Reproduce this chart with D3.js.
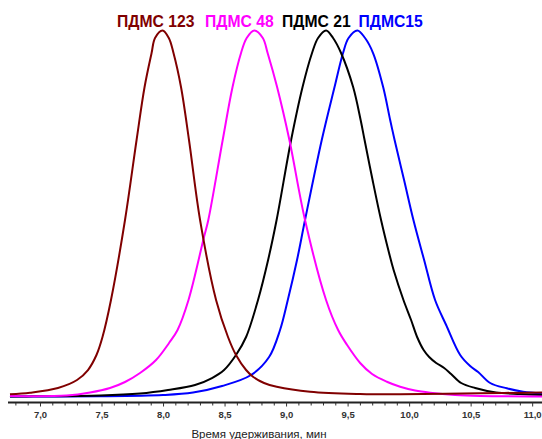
<!DOCTYPE html>
<html><head><meta charset="utf-8">
<script src="https://cdn.jsdelivr.net/npm/d3@7"></script>
<style>body{margin:0;background:#fff}svg{display:block}</style>
</head><body><svg id="c" width="542" height="439"></svg>
<script>
const seriesNames = ["ПДМС 123", "ПДМС 48", "ПДМС 21", "ПДМС15"];
const seriesColors = ["#800000", "#ff00ff", "#000000", "#0000ff"];

// [retention time, min ; relative intensity, % of peak]
const pdms123 = [[6.756,0.60],[6.919,1.04],[7.146,2.32],[7.301,4.51],[7.390,7.24],[7.459,11.34],[7.508,16.26],[7.577,26.37],[7.691,48.22],[7.785,70.08],[7.850,84.56],[7.907,93.85],[7.935,97.95],[7.996,100],[8.047,97.95],[8.085,93.85],[8.146,84.56],[8.211,70.08],[8.301,48.22],[8.431,26.37],[8.528,16.26],[8.593,11.34],[8.675,7.24],[8.734,5.33],[8.821,3.7],[8.924,2.68],[9.195,1.31],[9.602,0.68],[9.927,0.60],[10.577,0.90],[11.081,1.09]];

const pdms48 = [[6.756,0.14],[7.217,0.27],[7.407,1.09],[7.569,2.32],[7.691,3.96],[7.813,6.42],[7.943,9.97],[8.049,14.62],[8.118,18.17],[8.207,26.37],[8.333,43.58],[8.368,48.22],[8.485,70.08],[8.565,84.56],[8.634,93.85],[8.680,97.95],[8.742,100],[8.811,97.95],[8.850,93.85],[8.927,84.56],[9.027,70.08],[9.154,48.22],[9.325,26.37],[9.423,18.17],[9.496,14.07],[9.602,9.15],[9.699,6.15],[9.819,4.04],[9.927,2.68],[10.049,1.64],[10.171,1.04],[10.374,0.41],[10.577,0.14],[11.081,0]];

const pdms21 = [[6.756,0],[6.943,0.05],[7.488,0.27],[7.813,0.82],[8.041,1.78],[8.260,3.14],[8.398,5.05],[8.496,7.24],[8.593,11.34],[8.675,16.26],[8.772,26.37],[8.854,37.30],[8.923,48.22],[9.041,70.08],[9.134,84.56],[9.211,93.85],[9.260,97.95],[9.325,100],[9.382,97.95],[9.447,93.85],[9.545,84.56],[9.606,75.55],[9.638,70.08],[9.703,59.15],[9.772,48.22],[9.837,39.21],[9.874,34.56],[9.954,26.37],[10.016,20.90],[10.065,16.26],[10.118,12.70],[10.163,10.79],[10.220,9.15],[10.285,7.79],[10.341,6.15],[10.423,3.69],[10.537,2.32],[10.707,1.09],[10.902,0.68],[11.081,0.41]];

const pdms15 = [[6.756,0],[7.488,0.05],[8.000,0.41],[8.244,1.09],[8.480,2.87],[8.715,5.87],[8.862,10.79],[8.951,18.17],[9.014,26.37],[9.089,37.30],[9.154,48.22],[9.290,70.08],[9.394,84.56],[9.463,93.85],[9.508,97.95],[9.580,100],[9.642,97.95],[9.707,93.85],[9.789,84.56],[9.846,75.55],[9.882,70.08],[9.959,59.15],[10.035,48.22],[10.122,37.30],[10.211,26.37],[10.301,19.54],[10.415,11.34],[10.496,8.33],[10.561,6.69],[10.659,3.69],[10.794,2.24],[10.927,1.31],[11.081,0.87]];

const xTickValues = [7.0, 7.5, 8.0, 8.5, 9.0, 9.5, 10.0, 10.5, 11.0];
const xTickLabels = ["7,0", "7,5", "8,0", "8,5", "9,0", "9,5", "10,0", "10,5", "11,0"];
const xMinorTicks = [6.8,6.9,7.1,7.2,7.3,7.4,7.6,7.7,7.8,7.9,8.1,8.2,8.3,8.4,8.6,8.7,8.8,8.9,9.1,9.2,9.3,9.4,9.6,9.7,9.8,9.9,10.1,10.2,10.3,10.4,10.6,10.7,10.8,10.9];
const xAxisTitle = "Время удерживания, мин";

const svg = d3.select("#c");
const x = d3.scaleLinear().domain([6.74, 11.08]).range([8, 542]);
const y = d3.scaleLinear().domain([0, 100]).range([396.5, 30.5]);

const line = d3.line().x(d => x(d[0])).y(d => y(d[1])).curve(d3.curveCatmullRom.alpha(0.5));
const allSeries = [pdms123, pdms48, pdms21, pdms15];
[3, 2, 1, 0].forEach(i => {
  svg.append("path").attr("d", line(allSeries[i]))
    .attr("fill", "none").attr("stroke", seriesColors[i])
    .attr("stroke-width", 2).attr("stroke-linejoin", "round");
});

const axisY = 402.5;
const gMinor = svg.append("g").attr("transform", `translate(0,${axisY})`)
  .call(d3.axisBottom(x).tickValues(xMinorTicks).tickSize(3).tickSizeOuter(0).tickFormat(""));
gMinor.select(".domain").remove();
gMinor.selectAll("line").attr("stroke", "#333");

const gMajor = svg.append("g").attr("transform", `translate(0,${axisY})`)
  .call(d3.axisBottom(x).tickValues(xTickValues).tickSize(4).tickSizeOuter(0).tickPadding(4.5)
    .tickFormat((d, i) => xTickLabels[i]));
gMajor.select(".domain").attr("stroke", "#222").attr("stroke-width", 2)
  .attr("d", `M8,0H542`);
gMajor.selectAll("line").attr("stroke", "#333");
gMajor.selectAll("text").attr("font-family", "Liberation Sans, Arial, sans-serif")
  .attr("font-size", 9.5).attr("font-weight", "bold").attr("fill", "#333");

svg.append("text").attr("x", 259).attr("y", 438)
  .attr("text-anchor", "middle").attr("font-family", "Liberation Sans, Arial, sans-serif")
  .attr("font-size", 11.5).attr("fill", "#222").text(xAxisTitle);

const legendX = [117, 205, 282, 358.5];
seriesNames.forEach((n, i) => {
  svg.append("text").attr("x", legendX[i]).attr("y", 27)
    .attr("font-family", "Liberation Sans, Arial, sans-serif")
    .attr("font-size", 15.7).attr("font-weight", "bold")
    .attr("fill", seriesColors[i]).text(n);
});
</script>
</body></html>
